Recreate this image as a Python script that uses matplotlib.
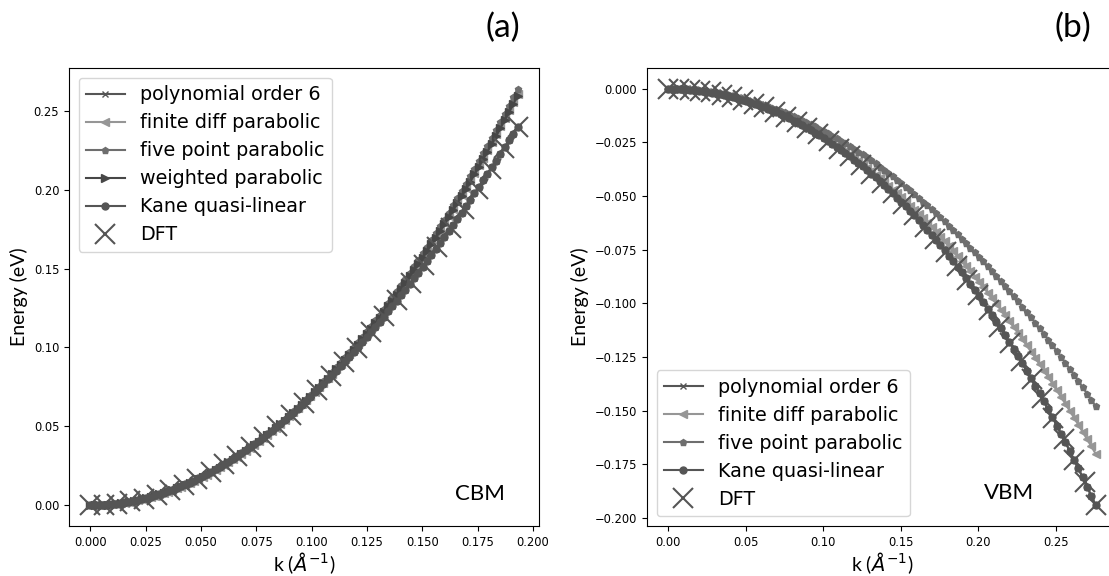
import numpy as np
import matplotlib
matplotlib.use("Agg")
import matplotlib.pyplot as plt

# ---------------- CBM panel (a) ----------------
k_max_cbm = 0.193
# DFT band energies (eV) on 33 evenly spaced k-points
cbm_dft = [0.0, 0.000262, 0.001047, 0.002354, 0.004182, 0.006527, 0.009386,
           0.012754, 0.016627, 0.020999, 0.025863, 0.031213, 0.037043,
           0.043343, 0.050105, 0.057320, 0.064981, 0.073077, 0.081597,
           0.090534, 0.099878, 0.109616, 0.119741, 0.130241, 0.141106,
           0.152327, 0.163892, 0.175793, 0.188018, 0.200559, 0.213406,
           0.226549, 0.239980]

# fitted dispersions (eV) on 100 evenly spaced k-points
cbm_poly = [
    0.0, 0.00003, 0.00011, 0.00025, 0.00044, 0.00068, 0.00098, 0.00134, 0.00175, 0.00221,
    0.00273, 0.00331, 0.00393, 0.00461, 0.00535, 0.00614, 0.00698, 0.00788, 0.00883, 0.00983,
    0.01089, 0.01201, 0.01316, 0.01437, 0.01564, 0.01696, 0.01833, 0.01976, 0.02123, 0.02276,
    0.02434, 0.02597, 0.02765, 0.02938, 0.03116, 0.03299, 0.03487, 0.03680, 0.03878, 0.04080,
    0.04288, 0.04501, 0.04718, 0.04940, 0.05167, 0.05398, 0.05635, 0.05875, 0.06121, 0.06371,
    0.06626, 0.06885, 0.07149, 0.07417, 0.07690, 0.07967, 0.08248, 0.08534, 0.08824, 0.09118,
    0.09416, 0.09719, 0.10026, 0.10337, 0.10652, 0.10971, 0.11295, 0.11622, 0.11953, 0.12288,
    0.12627, 0.12970, 0.13316, 0.13667, 0.14021, 0.14379, 0.14741, 0.15106, 0.15475, 0.15847,
    0.16223, 0.16603, 0.16986, 0.17372, 0.17762, 0.18155, 0.18552, 0.18952, 0.19355, 0.19761,
    0.20171, 0.20584, 0.21000, 0.21419, 0.21841, 0.22266, 0.22695, 0.23126, 0.23560, 0.23997]
cbm_findiff = [
    0.0, 0.00003, 0.00011, 0.00024, 0.00043, 0.00067, 0.00096, 0.00130, 0.00170, 0.00215,
    0.00266, 0.00322, 0.00383, 0.00450, 0.00521, 0.00599, 0.00681, 0.00769, 0.00862, 0.00960,
    0.01064, 0.01173, 0.01288, 0.01407, 0.01532, 0.01663, 0.01798, 0.01939, 0.02086, 0.02237,
    0.02394, 0.02557, 0.02724, 0.02897, 0.03075, 0.03259, 0.03448, 0.03642, 0.03842, 0.04046,
    0.04257, 0.04472, 0.04693, 0.04919, 0.05150, 0.05387, 0.05629, 0.05877, 0.06129, 0.06388,
    0.06651, 0.06920, 0.07194, 0.07473, 0.07758, 0.08048, 0.08343, 0.08644, 0.08949, 0.09261,
    0.09577, 0.09899, 0.10226, 0.10559, 0.10897, 0.11240, 0.11589, 0.11942, 0.12302, 0.12666,
    0.13036, 0.13411, 0.13791, 0.14177, 0.14568, 0.14965, 0.15366, 0.15773, 0.16186, 0.16603,
    0.17026, 0.17455, 0.17888, 0.18327, 0.18772, 0.19221, 0.19676, 0.20136, 0.20602, 0.21073,
    0.21549, 0.22030, 0.22517, 0.23009, 0.23507, 0.24010, 0.24518, 0.25031, 0.25550, 0.26074]
cbm_fivept = [
    0.0, 0.00003, 0.00011, 0.00024, 0.00043, 0.00067, 0.00097, 0.00132, 0.00172, 0.00218,
    0.00269, 0.00326, 0.00388, 0.00455, 0.00528, 0.00606, 0.00689, 0.00778, 0.00872, 0.00972,
    0.01077, 0.01187, 0.01303, 0.01424, 0.01551, 0.01683, 0.01820, 0.01963, 0.02111, 0.02265,
    0.02423, 0.02588, 0.02757, 0.02932, 0.03113, 0.03299, 0.03490, 0.03686, 0.03888, 0.04096,
    0.04308, 0.04526, 0.04750, 0.04979, 0.05213, 0.05453, 0.05698, 0.05948, 0.06204, 0.06465,
    0.06732, 0.07004, 0.07281, 0.07564, 0.07852, 0.08145, 0.08444, 0.08748, 0.09058, 0.09373,
    0.09694, 0.10019, 0.10351, 0.10687, 0.11029, 0.11376, 0.11729, 0.12087, 0.12451, 0.12820,
    0.13194, 0.13574, 0.13959, 0.14349, 0.14745, 0.15146, 0.15553, 0.15965, 0.16382, 0.16805,
    0.17233, 0.17667, 0.18105, 0.18550, 0.18999, 0.19454, 0.19915, 0.20381, 0.20852, 0.21329,
    0.21811, 0.22298, 0.22791, 0.23289, 0.23792, 0.24301, 0.24816, 0.25335, 0.25860, 0.26391]
cbm_weighted = [
    0.0, 0.00003, 0.00011, 0.00024, 0.00042, 0.00066, 0.00095, 0.00130, 0.00169, 0.00214,
    0.00265, 0.00320, 0.00381, 0.00447, 0.00519, 0.00596, 0.00678, 0.00765, 0.00858, 0.00956,
    0.01059, 0.01168, 0.01282, 0.01401, 0.01525, 0.01655, 0.01790, 0.01930, 0.02076, 0.02227,
    0.02383, 0.02545, 0.02711, 0.02883, 0.03061, 0.03244, 0.03432, 0.03625, 0.03823, 0.04027,
    0.04237, 0.04451, 0.04671, 0.04896, 0.05126, 0.05362, 0.05603, 0.05849, 0.06101, 0.06357,
    0.06620, 0.06887, 0.07160, 0.07438, 0.07721, 0.08010, 0.08304, 0.08603, 0.08907, 0.09217,
    0.09532, 0.09853, 0.10178, 0.10509, 0.10845, 0.11187, 0.11534, 0.11886, 0.12244, 0.12606,
    0.12974, 0.13348, 0.13726, 0.14110, 0.14499, 0.14894, 0.15294, 0.15699, 0.16109, 0.16525,
    0.16946, 0.17372, 0.17804, 0.18241, 0.18683, 0.19130, 0.19583, 0.20041, 0.20505, 0.20973,
    0.21447, 0.21927, 0.22411, 0.22901, 0.23396, 0.23897, 0.24402, 0.24913, 0.25430, 0.25951]
cbm_kane = cbm_poly

# ---------------- VBM panel (b) ----------------
k_max_vbm = 0.2756
# DFT band energies (eV) on 41 evenly spaced k-points
vbm_dft = [0.0, -0.000106, -0.000425, -0.000958, -0.001704, -0.002664,
           -0.003840, -0.005233, -0.006844, -0.008675, -0.010727, -0.013004,
           -0.015507, -0.018239, -0.021202, -0.024400, -0.027837, -0.031515,
           -0.035437, -0.039610, -0.044035, -0.048718, -0.053663, -0.058877,
           -0.064360, -0.070123, -0.076168, -0.082502, -0.089131, -0.096061,
           -0.103298, -0.110848, -0.118720, -0.126920, -0.135454, -0.144331,
           -0.153559, -0.163146, -0.173099, -0.183427, -0.194140]

vbm_poly = [
    0.0, -0.00002, -0.00007, -0.00016, -0.00028, -0.00043, -0.00063, -0.00085, -0.00111, -0.00141,
    -0.00174, -0.00210, -0.00251, -0.00294, -0.00341, -0.00392, -0.00446, -0.00504, -0.00565, -0.00630,
    -0.00698, -0.00770, -0.00846, -0.00925, -0.01008, -0.01095, -0.01185, -0.01279, -0.01376, -0.01478,
    -0.01583, -0.01691, -0.01804, -0.01920, -0.02040, -0.02164, -0.02292, -0.02423, -0.02559, -0.02698,
    -0.02841, -0.02989, -0.03140, -0.03295, -0.03454, -0.03618, -0.03785, -0.03957, -0.04132, -0.04312,
    -0.04496, -0.04684, -0.04877, -0.05073, -0.05274, -0.05480, -0.05690, -0.05904, -0.06122, -0.06346,
    -0.06573, -0.06805, -0.07042, -0.07284, -0.07530, -0.07780, -0.08036, -0.08296, -0.08561, -0.08831,
    -0.09106, -0.09386, -0.09671, -0.09960, -0.10255, -0.10555, -0.10860, -0.11171, -0.11486, -0.11807,
    -0.12133, -0.12465, -0.12802, -0.13145, -0.13493, -0.13846, -0.14206, -0.14571, -0.14942, -0.15318,
    -0.15700, -0.16089, -0.16483, -0.16883, -0.17290, -0.17702, -0.18121, -0.18545, -0.18977, -0.19414]
vbm_findiff = [
    0.0, -0.00002, -0.00007, -0.00016, -0.00028, -0.00043, -0.00062, -0.00085, -0.00111, -0.00141,
    -0.00174, -0.00210, -0.00250, -0.00293, -0.00340, -0.00391, -0.00444, -0.00502, -0.00562, -0.00627,
    -0.00694, -0.00766, -0.00840, -0.00918, -0.01000, -0.01085, -0.01174, -0.01266, -0.01361, -0.01460,
    -0.01562, -0.01668, -0.01778, -0.01890, -0.02007, -0.02127, -0.02250, -0.02377, -0.02507, -0.02640,
    -0.02778, -0.02918, -0.03062, -0.03210, -0.03361, -0.03515, -0.03673, -0.03835, -0.04000, -0.04168,
    -0.04340, -0.04515, -0.04694, -0.04876, -0.05062, -0.05251, -0.05444, -0.05640, -0.05840, -0.06043,
    -0.06249, -0.06459, -0.06673, -0.06890, -0.07110, -0.07334, -0.07562, -0.07793, -0.08027, -0.08265,
    -0.08506, -0.08751, -0.08999, -0.09251, -0.09506, -0.09765, -0.10027, -0.10292, -0.10562, -0.10834,
    -0.11110, -0.11390, -0.11673, -0.11959, -0.12249, -0.12542, -0.12839, -0.13139, -0.13443, -0.13750,
    -0.14061, -0.14375, -0.14693, -0.15014, -0.15339, -0.15667, -0.15999, -0.16334, -0.16672, -0.17014]
vbm_fivept = [
    0.0, -0.00002, -0.00006, -0.00014, -0.00024, -0.00038, -0.00054, -0.00074, -0.00097, -0.00122,
    -0.00151, -0.00183, -0.00217, -0.00255, -0.00296, -0.00340, -0.00387, -0.00436, -0.00489, -0.00545,
    -0.00604, -0.00666, -0.00731, -0.00799, -0.00870, -0.00944, -0.01021, -0.01101, -0.01184, -0.01270,
    -0.01359, -0.01451, -0.01546, -0.01644, -0.01746, -0.01850, -0.01957, -0.02067, -0.02180, -0.02297,
    -0.02416, -0.02538, -0.02664, -0.02792, -0.02923, -0.03058, -0.03195, -0.03336, -0.03479, -0.03626,
    -0.03775, -0.03928, -0.04083, -0.04242, -0.04403, -0.04568, -0.04735, -0.04906, -0.05080, -0.05256,
    -0.05436, -0.05619, -0.05805, -0.05993, -0.06185, -0.06380, -0.06578, -0.06779, -0.06982, -0.07189,
    -0.07399, -0.07612, -0.07828, -0.08047, -0.08269, -0.08494, -0.08722, -0.08953, -0.09187, -0.09424,
    -0.09664, -0.09907, -0.10154, -0.10403, -0.10655, -0.10910, -0.11168, -0.11429, -0.11694, -0.11961,
    -0.12231, -0.12505, -0.12781, -0.13060, -0.13343, -0.13628, -0.13917, -0.14208, -0.14502, -0.14800]
vbm_kane = vbm_poly

# ---------------- styles ----------------
label_font = "Lato"
line_kw = dict(lw=1.5)
series_style = {
    "polynomial order 6": dict(color="#555555", marker="x", ms=4, mew=1.0),
    "finite diff parabolic": dict(color="#969696", marker="<", ms=6),
    "five point parabolic": dict(color="#6e6e6e", marker="p", ms=5),
    "weighted parabolic": dict(color="#474747", marker=">", ms=6),
    "Kane quasi-linear": dict(color="#555555", marker="o", ms=5),
}
dft_style = dict(color="#555555", marker="x", ms=14, mew=1.5, ls="none")
legend_kw = dict(fontsize=13.8, labelspacing=0.47, handlelength=2.0)

fig = plt.figure(figsize=(11.09, 5.76), dpi=100)
axA = fig.add_axes([0.0622, 0.0868, 0.4238, 0.7951])
axB = fig.add_axes([0.5834, 0.0868, 0.4238, 0.7951])


def draw_panel(ax, kmax, dft, fits):
    for name, vals in fits:
        k = np.linspace(0, kmax, len(vals))
        ax.plot(k, vals, label=name, **line_kw, **series_style[name])
    kd = np.linspace(0, kmax, len(dft))
    ax.plot(kd, dft, label="DFT", **dft_style)
    ax.tick_params(labelsize=8.3)
    ax.set_xlabel(r"k ($Å^{-1}$)", fontsize=14, labelpad=1,
                  family=[label_font, "DejaVu Sans"])
    ax.set_ylabel("Energy (eV)", fontsize=14, family=label_font)


draw_panel(axA, k_max_cbm, cbm_dft, [
    ("polynomial order 6", cbm_poly),
    ("finite diff parabolic", cbm_findiff),
    ("five point parabolic", cbm_fivept),
    ("weighted parabolic", cbm_weighted),
    ("Kane quasi-linear", cbm_kane),
])
draw_panel(axB, k_max_vbm, vbm_dft, [
    ("polynomial order 6", vbm_poly),
    ("finite diff parabolic", vbm_findiff),
    ("five point parabolic", vbm_fivept),
    ("Kane quasi-linear", vbm_kane),
])

axA.legend(loc="upper left", **legend_kw)
axB.legend(loc="lower left", **legend_kw)

axA.text(0.874, 0.07, "CBM", transform=axA.transAxes, ha="center", va="center",
         fontsize=16, family=label_font)
axB.text(0.770, 0.071, "VBM", transform=axB.transAxes, ha="center", va="center",
         fontsize=16, family=label_font)

fig.text(0.4536, 0.952, "(a)", ha="center", va="center", fontsize=24, family=label_font)
fig.text(0.967, 0.952, "(b)", ha="center", va="center", fontsize=24, family=label_font)

fig.savefig("out.png", dpi=100)
